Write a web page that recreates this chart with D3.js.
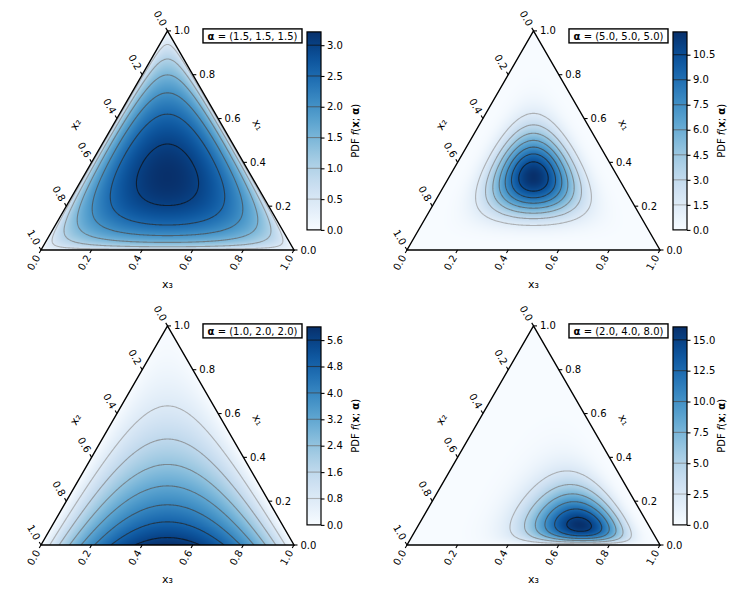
<!DOCTYPE html>
<html>
<head>
<meta charset="utf-8">
<script src="https://cdn.jsdelivr.net/npm/d3@7"></script>
<style>
  body { margin: 0; background: #fff; }
  text { font-family: "DejaVu Sans", sans-serif; font-size: 10px; fill: #000; }
</style>
</head>
<body>
<svg id="chart" width="743" height="592"></svg>
<script>
"use strict";

// Dirichlet concentration parameters, one per panel
var alphas = [[1.5, 1.5, 1.5], [5.0, 5.0, 5.0], [1.0, 2.0, 2.0], [2.0, 4.0, 8.0]];
// colorbar ticks (also the contour line levels)
var barTicks = [
    [0.0, 0.5, 1.0, 1.5, 2.0, 2.5, 3.0],
    [0.0, 1.5, 3.0, 4.5, 6.0, 7.5, 9.0, 10.5],
    [0.0, 0.8, 1.6, 2.4, 3.2, 4.0, 4.8, 5.6],
    [0.0, 2.5, 5.0, 7.5, 10.0, 12.5, 15.0]
];
var edgeTicks = [0.0, 0.2, 0.4, 0.6, 0.8, 1.0];
var axisNames = ["x\u2081", "x\u2082", "x\u2083"];

var side = 253, triH = side * Math.sqrt(3) / 2;
var origins = [[41, 250], [407, 250], [41, 545], [407, 545]]; // bottom-left corner of each triangle

function lgamma(z) {
    var c = [0.99999999999980993, 676.5203681218851, -1259.1392167224028, 771.32342877765313,
        -176.61502916214059, 12.507343278686905, -0.13857109526572012, 9.9843695780195716e-6, 1.5056327351493116e-7];
    if (z < 0.5) return Math.log(Math.PI / Math.sin(Math.PI * z)) - lgamma(1 - z);
    z -= 1;
    var x = c[0];
    for (var i = 1; i < 9; i++) x += c[i] / (z + i);
    var t = z + 7.5;
    return 0.5 * Math.log(2 * Math.PI) + (z + 0.5) * Math.log(t) - t + Math.log(x);
}

function dirichlet(a) {
    var logB = lgamma(a[0]) + lgamma(a[1]) + lgamma(a[2]) - lgamma(a[0] + a[1] + a[2]);
    return function(p) {
        var s = -logB;
        for (var k = 0; k < 3; k++) {
            if (a[k] === 1) continue;
            if (p[k] <= 0) return 0;
            s += (a[k] - 1) * Math.log(p[k]);
        }
        return Math.exp(s);
    };
}

// local pixel coords (u from left, v from top of triangle box) -> barycentric (x1, x2, x3)
function bary(u, v) {
    var x1 = 1 - v / triH;
    var x3 = u / side - x1 / 2;
    var p = [x1, 1 - x1 - x3, x3].map(function(d) { return Math.max(0, d); });
    var s = p[0] + p[1] + p[2];
    return p.map(function(d) { return d / s; });
}

var svg = d3.select("#chart");
var defs = svg.append("defs");

alphas.forEach(function(a, idx) {
    var x0 = origins[idx][0], base = origins[idx][1], top = base - triH;
    var f = dirichlet(a);

    var sx = d3.scaleLinear().domain([0, 1]).range([x0, x0 + side]);
    var sy = d3.scaleLinear().domain([0, 1]).range([base, top]);
    function pt(x1, x2, x3) { return [sx(x3 + x1 / 2), sy(x1)]; }

    // density grid for contours
    var nx = Math.ceil(side), ny = Math.ceil(triH);
    var values = new Float64Array(nx * ny);
    for (var j = 0; j < ny; j++)
        for (var i = 0; i < nx; i++)
            values[i + j * nx] = f(bary(i + 0.5, j + 0.5));
    var vmax = f([(a[0] - 1), (a[1] - 1), (a[2] - 1)].map(function(d, k, arr) {
        return d / (arr[0] + arr[1] + arr[2]);
    }));
    if (!isFinite(vmax)) vmax = d3.max(values);
    vmax = Math.max(vmax, d3.max(values));

    var color = d3.scaleSequential(d3.interpolateBlues).domain([0, vmax]);

    // image of the density
    var sc = 2, cw = Math.ceil(side * sc), ch = Math.ceil(triH * sc);
    var canvas = document.createElement("canvas");
    canvas.width = cw; canvas.height = ch;
    var ctx = canvas.getContext("2d");
    var img = ctx.createImageData(cw, ch);
    for (var jj = 0; jj < ch; jj++) {
        for (var ii = 0; ii < cw; ii++) {
            var c = d3.rgb(color(f(bary((ii + 0.5) / sc, (jj + 0.5) / sc))));
            var o = 4 * (ii + jj * cw);
            img.data[o] = c.r; img.data[o + 1] = c.g; img.data[o + 2] = c.b; img.data[o + 3] = 255;
        }
    }
    ctx.putImageData(img, 0, 0);

    var corners = [pt(0, 1, 0), pt(0, 0, 1), pt(1, 0, 0)];
    defs.append("clipPath").attr("id", "tri" + idx)
        .append("polygon").attr("points", corners.map(function(p) { return p.join(","); }).join(" "));

    var g = svg.append("g");
    var inner = g.append("g").attr("clip-path", "url(#tri" + idx + ")");
    inner.append("image")
        .attr("href", canvas.toDataURL())
        .attr("x", x0).attr("y", top)
        .attr("width", cw / sc).attr("height", ch / sc)
        .attr("preserveAspectRatio", "none");

    var levels = barTicks[idx].filter(function(t) { return t > 0 && t < vmax; });
    var grey = function(k) { return d3.interpolateGreys(0.5 + 0.45 * k / Math.max(1, levels.length - 1)); };
    var contours = d3.contours().size([nx, ny]).thresholds(levels)(values);
    inner.append("g")
        .attr("transform", "translate(" + x0 + "," + top + ")")
        .selectAll("path").data(contours).enter()
        .append("path")
            .attr("d", d3.geoPath())
            .attr("fill", "none")
            .attr("stroke", function(d, k) { return grey(k); })
            .attr("stroke-opacity", 0.7)
            .attr("stroke-width", 1.1);

    g.append("polygon")
        .attr("points", corners.map(function(p) { return p.join(","); }).join(" "))
        .attr("fill", "none").attr("stroke", "#000").attr("stroke-width", 1.4)
        .attr("stroke-linejoin", "miter");

    // edge ticks: right = x1, left = x2, bottom = x3
    var edges = [
        { at: function(v) { return pt(v, 0, 1 - v); }, dir: [1, 0], rot: 0, anchor: "start" },
        { at: function(v) { return pt(1 - v, v, 0); }, dir: [-0.5, -Math.sqrt(3) / 2], rot: 60, anchor: "end" },
        { at: function(v) { return pt(0, 1 - v, v); }, dir: [-0.5, Math.sqrt(3) / 2], rot: -60, anchor: "end" }
    ];
    edges.forEach(function(e) {
        var tk = g.append("g").selectAll("g").data(edgeTicks).enter().append("g");
        tk.append("line")
            .attr("x1", function(v) { return e.at(v)[0]; })
            .attr("y1", function(v) { return e.at(v)[1]; })
            .attr("x2", function(v) { return e.at(v)[0] + e.dir[0] * 3.5; })
            .attr("y2", function(v) { return e.at(v)[1] + e.dir[1] * 3.5; })
            .attr("stroke", "#000").attr("stroke-width", 1.1);
        tk.append("text")
            .attr("transform", function(v) {
                var p = e.at(v);
                return "translate(" + (p[0] + e.dir[0] * 6.5) + "," + (p[1] + e.dir[1] * 6.5) + ") rotate(" + e.rot + ")";
            })
            .attr("text-anchor", e.anchor)
            .attr("dominant-baseline", "central")
            .text(function(v) { return v.toFixed(1); });
    });

    // axis names
    var rm = pt(0.5, 0, 0.5), lm = pt(0.5, 0.5, 0);
    g.append("text")
        .attr("transform", "translate(" + (rm[0] + 27) + "," + (rm[1] - 15.5) + ") rotate(60)")
        .attr("text-anchor", "middle").attr("dominant-baseline", "central")
        .style("font-size", "11px").text(axisNames[0]);
    g.append("text")
        .attr("transform", "translate(" + (lm[0] - 28.5) + "," + (lm[1] - 16) + ") rotate(-60)")
        .attr("text-anchor", "middle").attr("dominant-baseline", "central")
        .style("font-size", "11px").text(axisNames[1]);
    g.append("text")
        .attr("x", x0 + side / 2).attr("y", base + 34)
        .attr("text-anchor", "middle").attr("dominant-baseline", "central")
        .style("font-size", "11px").text(axisNames[2]);

    // legend box
    g.append("rect")
        .attr("x", x0 + 162).attr("y", top - 2).attr("width", 99).attr("height", 14)
        .attr("fill", "#fff").attr("stroke", "#000").attr("stroke-width", 1.4);
    var lt = g.append("text")
        .attr("x", x0 + 211.5).attr("y", top + 5)
        .attr("text-anchor", "middle").attr("dominant-baseline", "central");
    lt.append("tspan").attr("font-weight", "bold").text("\u03b1");
    lt.append("tspan").text(" = (" + a.map(function(d) { return d.toFixed(1); }).join(", ") + ")");

    // colorbar
    var cbX = x0 + 266, cbW = 14, cbTop = top + 1, cbH = 198;
    var cy = d3.scaleLinear().domain([0, vmax]).range([cbTop + cbH, cbTop]);
    var grad = defs.append("linearGradient").attr("id", "cb" + idx)
        .attr("x1", 0).attr("y1", 1).attr("x2", 0).attr("y2", 0);
    d3.range(0, 1.0001, 0.05).forEach(function(t) {
        grad.append("stop").attr("offset", t).attr("stop-color", d3.interpolateBlues(t));
    });
    g.append("rect")
        .attr("x", cbX).attr("y", cbTop).attr("width", cbW).attr("height", cbH)
        .attr("fill", "url(#cb" + idx + ")");
    g.append("g").selectAll("line").data(levels).enter().append("line")
        .attr("x1", cbX).attr("x2", cbX + cbW)
        .attr("y1", function(d) { return cy(d); }).attr("y2", function(d) { return cy(d); })
        .attr("stroke", function(d, k) { return grey(k); })
        .attr("stroke-opacity", 0.7).attr("stroke-width", 1.1);
    g.append("rect")
        .attr("x", cbX).attr("y", cbTop).attr("width", cbW).attr("height", cbH)
        .attr("fill", "none").attr("stroke", "#000").attr("stroke-width", 1.2);
    var ax = g.append("g")
        .attr("transform", "translate(" + (cbX + cbW) + ",0)")
        .call(d3.axisRight(cy).tickValues(barTicks[idx]).tickSize(3.5).tickPadding(2.5).tickFormat(d3.format(".1f")));
    ax.select(".domain").remove();
    ax.selectAll("line").attr("stroke-width", 1.1);
    ax.selectAll("text").style("font-size", "10px").style("font-family", "DejaVu Sans, sans-serif");

    var cl = g.append("text")
        .attr("transform", "translate(" + (cbX + cbW + 34) + "," + (cbTop + cbH / 2) + ") rotate(-90)")
        .attr("text-anchor", "middle").attr("dominant-baseline", "central");
    cl.append("tspan").text("PDF ");
    cl.append("tspan").attr("font-style", "italic").text("f");
    cl.append("tspan").text("(");
    cl.append("tspan").attr("font-weight", "bold").text("x");
    cl.append("tspan").text("; ");
    cl.append("tspan").attr("font-weight", "bold").text("\u03b1");
    cl.append("tspan").text(")");
});
</script>
</body>
</html>
